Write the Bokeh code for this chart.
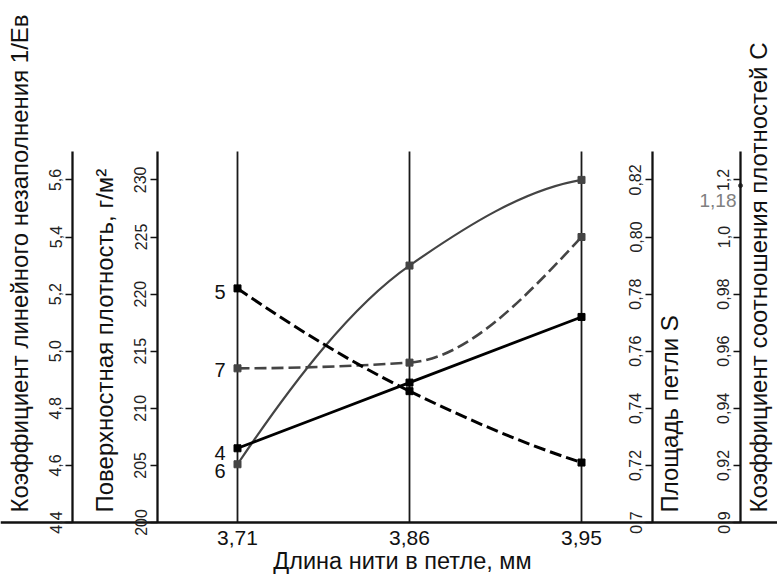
import numpy as np
from math import pi
from bokeh.plotting import figure
from bokeh.models import Range1d, LinearAxis, FixedTicker
from bokeh.core.properties import value
from bokeh.embed import file_html
from bokeh.resources import INLINE

# ---------------- data ----------------
loop_length_labels = ["3,71", "3,86", "3,95"]      # Длина нити в петле, мм
curve4_loop_area = [0.726, 0.749, 0.772]           # S  (axis "Площадь петли S")
curve5_nonfill = [5.22, 4.86, 4.61]                # 1/Eв (far-left axis)
curve6_density = [205.1, 222.5, 230.0]             # г/м2 (second left axis)
curve7_ratio = [0.954, 0.956, 1.000]               # C (far-right axis)
curve_names = ["4", "5", "6", "7"]

e_ticks = [4.4, 4.6, 4.8, 5.0, 5.2, 5.4, 5.6]
e_tick_labels = ["4,4", "4,6", "4,8", "5,0", "5,2", "5,4", "5,6"]
d_ticks = [200, 205, 210, 215, 220, 225, 230]
d_tick_labels = ["200", "205", "210", "215", "220", "225", "230"]
s_ticks = [0.70, 0.72, 0.74, 0.76, 0.78, 0.80, 0.82]
s_tick_labels = ["0,7", "0,72", "0,74", "0,76", "0,78", "0,80", "0,82"]
c_ticks = [0.90, 0.92, 0.94, 0.96, 0.98, 1.00, 1.02]
c_tick_labels = ["0,9", "0,92", "0,94", "0,96", "0,98", "1,0", "1,2"]
c_marker_value = [1.018]
c_marker_label = ["1,18"]

title_e = "Коэффициент линейного незаполнения 1/Eв"
title_d = "Поверхностная плотность, г/м²"
title_s = "Площадь петли S"
title_c = "Коэффициент соотношения плотностей C"
title_x = "Длина нити в петле, мм"

# ---------------- geometry (page pixels) ----------------
W, H = 777, 574
OX, OY = 0, 0
COL0, COL_STEP = 237.0, 172.0
Y_BASE, PX_UNIT = 522.0, 11.42      # page y of 200 g/m2, px per g/m2
TOP_PX = 151.0
FONT = "Liberation Sans"


def x_of(px):
    return (px - COL0) / COL_STEP


def y_of(py):
    return 200.0 + (Y_BASE - py) / PX_UNIT


x_range = Range1d(x_of(OX), x_of(OX + W))
y_range = Range1d(y_of(OY + H), y_of(OY))

# linear relations of the extra scales to the base (g/m2) scale
scales = {"e": (4.4, 0.04), "s": (0.7, 0.004), "c": (0.9, 0.004)}


def conv(name, v):
    if name == "default":
        return v
    b, k = scales[name]
    return b + (v - 200.0) * k


p = figure(width=W, height=H, x_range=x_range, y_range=y_range,
           output_backend="svg", toolbar_location=None, title=None,
           x_axis_location=None, y_axis_location=None,
           min_border=0, outline_line_color=None, background_fill_color="white")
p.grid.visible = False
p.extra_y_ranges = {n: Range1d(conv(n, y_range.start), conv(n, y_range.end)) for n in scales}

y_top = y_of(TOP_PX)

# vertical column lines
cols = np.arange(len(loop_length_labels), dtype=float)
p.segment(x0=cols, y0=[200.0] * len(cols), x1=cols, y1=[y_top] * len(cols),
          line_color="#1a1a1a", line_width=1.8)


def add_vaxis(rname, px, ticks, labels):
    ax = LinearAxis(y_range_name=rname, fixed_location=x_of(px),
                    ticker=FixedTicker(ticks=ticks),
                    major_label_overrides=dict(zip(ticks, labels)),
                    bounds=(conv(rname, 200.0), conv(rname, y_top)))
    ax.axis_line_width = 2.3
    ax.axis_line_color = "#111111"
    ax.major_tick_line_width = 1.5
    ax.major_tick_line_color = "#111111"
    ax.major_tick_out = 7
    ax.major_tick_in = 0
    ax.minor_tick_line_color = None
    ax.major_label_text_font = FONT
    ax.major_label_text_font_size = "16px"
    ax.major_label_text_color = "#222222"
    ax.major_label_standoff = 4
    ax.major_label_orientation = "vertical"
    p.add_layout(ax, "left")


add_vaxis("e", 72, e_ticks, e_tick_labels)
add_vaxis("default", 157, d_ticks, d_tick_labels)
add_vaxis("s", 652, s_ticks, s_tick_labels)
add_vaxis("c", 740, c_ticks, c_tick_labels)

xt = list(range(len(loop_length_labels)))
xax = LinearAxis(fixed_location=200.0, ticker=FixedTicker(ticks=xt),
                 major_label_overrides=dict(zip(xt, loop_length_labels)))
xax.axis_line_width = 2.3
xax.axis_line_color = "#111111"
xax.major_tick_out = 0
xax.major_tick_in = 0
xax.minor_tick_line_color = None
xax.major_label_text_font = FONT
xax.major_label_text_font_size = "21px"
xax.major_label_text_color = "#111111"
xax.major_label_standoff = 8
p.add_layout(xax, "below")


def pchip_slopes(y):
    d = np.diff(y)
    n = len(y)
    m = np.zeros(n)
    for i in range(1, n - 1):
        if d[i - 1] * d[i] > 0:
            m[i] = 2.0 / (1.0 / d[i - 1] + 1.0 / d[i])
    m0 = (3 * d[0] - d[1]) / 2.0
    if np.sign(m0) != np.sign(d[0]):
        m0 = 0.0
    m[0] = m0
    mn = (3 * d[-1] - d[-2]) / 2.0
    if np.sign(mn) != np.sign(d[-1]):
        mn = 0.0
    m[-1] = mn
    return m


def curve(vals, rname, color, width, dash):
    y = np.asarray(vals, dtype=float)
    x = np.arange(len(y), dtype=float)
    m = pchip_slopes(y)
    p.bezier(x0=x[:-1], y0=y[:-1], x1=x[1:], y1=y[1:],
             cx0=x[:-1] + 1 / 3, cy0=y[:-1] + m[:-1] / 3,
             cx1=x[1:] - 1 / 3, cy1=y[1:] - m[1:] / 3,
             y_range_name=rname, line_color=color, line_width=width, line_dash=dash)
    p.scatter(x, y, marker="square", size=7, fill_color=color, line_color=color,
              y_range_name=rname)


curve(curve6_density, "default", "#444444", 2.2, "solid")
curve(curve7_ratio, "c", "#444444", 2.6, "12 5")
curve(curve4_loop_area, "s", "#000000", 2.8, "solid")
curve(curve5_nonfill, "e", "#000000", 3.0, "12 5")

# curve numbers at the first column
label_specs = [(curve4_loop_area, "s", 5), (curve5_nonfill, "e", 4),
               (curve6_density, "default", 7), (curve7_ratio, "c", 2)]
for name, (vals, rname, dy) in zip(curve_names, label_specs):
    p.text(x=[0.0], y=[vals[0]], text=[name], y_range_name=rname,
           x_offset=-12, y_offset=dy, text_align="right", text_baseline="middle",
           text_font=value(FONT), text_font_size="20px", text_color="#111111")

# 1,18 marker on C axis
p.scatter(x=[x_of(740)] * len(c_marker_value), y=c_marker_value, y_range_name="c",
          marker="circle", size=4, fill_color="#444444", line_color="#444444")
p.text(x=[x_of(740)] * len(c_marker_value), y=c_marker_value, text=c_marker_label,
       y_range_name="c", x_offset=-4, y_offset=15, text_align="right",
       text_baseline="middle", text_font=value(FONT), text_font_size="19px",
       text_color="#808080")

# axis titles (rotated)
for t, px in [(title_e, 19), (title_d, 104), (title_s, 669), (title_c, 758)]:
    p.text(x=[x_of(px)], y=[y_of(512)], text=[t], angle=pi / 2,
           text_align="left", text_baseline="middle",
           text_font=value(FONT), text_font_size="24px", text_color="#111111")

p.text(x=[x_of(402)], y=[y_of(560)], text=[title_x], text_align="center",
       text_baseline="middle", text_font=value(FONT), text_font_size="23.5px",
       text_color="#111111")

open("out.html", "w").write(file_html(p, INLINE))
